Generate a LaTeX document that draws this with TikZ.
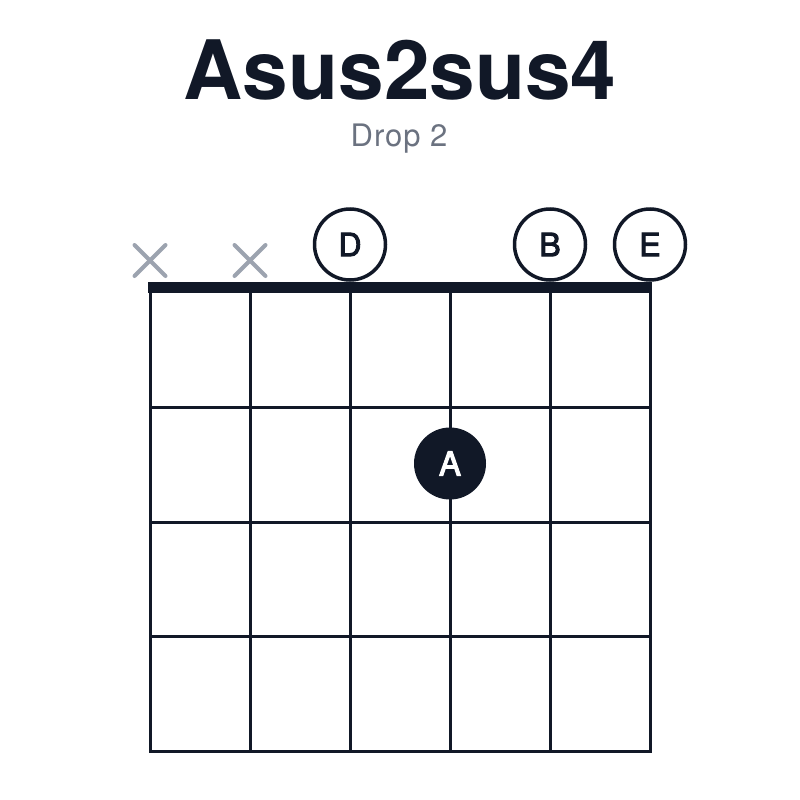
\documentclass[tikz,border=0pt]{standalone}
\usepackage{fontspec}
\setmainfont{TeX Gyre Heros}
\newfontfamily\notefont[FakeBold=3]{TeX Gyre Heros}
\usepackage{tikz}

\definecolor{ink}{HTML}{111827}
\definecolor{mutegray}{HTML}{9CA3AF}
\definecolor{subgray}{HTML}{6B7280}

\begin{document}
\begin{tikzpicture}[x=1pt, y=-1pt,
  openstring/.style={circle, draw=ink, line width=3.5pt, fill=white, minimum size=71pt,
    inner sep=0pt, text=ink, font=\notefont\fontsize{32}{32}\selectfont},
  fretted/.style={circle, fill=ink, minimum size=72pt, inner sep=0pt, text=white,
    font=\notefont\fontsize{33}{33}\selectfont},
  mutestroke/.style={draw=mutegray, line width=4pt, line cap=round},
  gridline/.style={draw=ink, line width=3pt}]
  \useasboundingbox (0,0) rectangle (800,800);

  % title
  \node[anchor=base, text=ink, font=\fontsize{82}{82}\selectfont\bfseries] (title) at (400,99) {Asus2sus4};
  \node[anchor=base, text=subgray, font=\addfontfeatures{LetterSpace=3}\fontsize{31}{31}\selectfont] (subtitle) at (399,146.5) {Drop 2};

  % strings and frets
  \foreach \s in {0,...,5}
    \draw[gridline] (150+100*\s,290) -- (150+100*\s,751);
  \foreach \f in {407.5,522,636.5,751}
    \draw[gridline, line cap=rect] (150,\f) -- (650,\f);
  \fill[ink] (148,282) rectangle (652,293);

  % muted strings
  \foreach \s in {150,250} {
    \draw[mutestroke] (\s-15.5,245) -- (\s+15.5,276);
    \draw[mutestroke] (\s-15.5,276) -- (\s+15.5,245);
  }

  % open and fretted notes
  \node[openstring] (openD) at (350,244.5) {D};
  \node[openstring] (openB) at (550,244.5) {B};
  \node[openstring] (openE) at (650,244.5) {E};
  \node[fretted] (noteA) at (450,463.5) {A};
\end{tikzpicture}
\end{document}
